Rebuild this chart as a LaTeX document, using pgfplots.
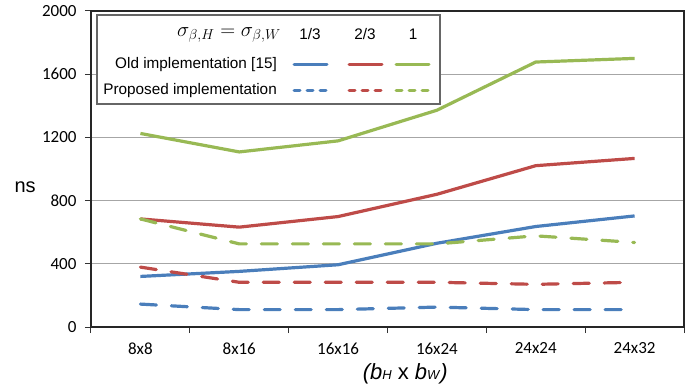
\documentclass[border=0pt]{standalone}
\usepackage{pgfplots}
\pgfplotsset{compat=1.18}
\usepackage{fontspec}
\setmainfont{Liberation Sans}
\newfontfamily\carlito{Carlito}
\definecolor{cblue}{RGB}{74,126,187}
\definecolor{cred}{RGB}{190,75,72}
\definecolor{cgreen}{RGB}{152,185,84}
\pgfplotstableread{
x oldA oldB oldC newA newB newC
0 320 684 1225 145 379 684
1 352 632 1108 110 283 526
2 394 699 1178 110 283 526
3 530 840 1372 126 283 526
4 636 1021 1677 110 270 577
5 703 1067 1700 110 283 535
}\datatable
\begin{document}
\begin{tikzpicture}
\path[use as bounding box] (-91bp,-59bp) rectangle (608bp,327bp);
\begin{axis}[
  scale only axis,
  width=593bp, height=316bp,
  xmin=-0.5, xmax=5.5, ymin=0, ymax=2000,
  xtick={0,...,5},
  xticklabels={8x8,8x16,16x16,16x24,24x24,24x32},
  minor xtick={-0.5,0.5,1.5,2.5,3.5,4.5,5.5},
  ytick={0,400,...,2000},
  tick pos=left,
  tick align=outside,
  major x tick style={draw=none},
  minor x tick style={black!80, line width=1bp},
  major y tick style={black!80, line width=1bp},
  major tick length=6bp,
  minor tick length=6bp,
  ymajorgrids=true,
  grid style={black!35, line width=1.3bp},
  axis line style={black!85, line width=2.2bp},
  ticklabel style={font=\carlito\fontsize{17bp}{19bp}\selectfont},
  /pgf/number format/assume math mode=true,
  /pgf/number format/1000 sep={},
  yticklabel style={xshift=-5bp},
  xticklabel style={yshift=-6bp},
  ylabel={ns},
  ylabel style={rotate=-90, at={(axis description cs:-0.111,0.443)}, anchor=center, font=\fontsize{20bp}{22bp}\selectfont},
  xlabel={\textit{(b}{\fontsize{13bp}{14bp}\selectfont\textit{H}} x \textit{b}{\fontsize{13bp}{14bp}\selectfont\textit{W}}\textit{)}},
  xlabel style={at={(axis description cs:0.53,-0.148)}, anchor=center, font=\fontsize{22bp}{24bp}\selectfont},
  every axis plot/.append style={line width=3.2bp, line join=round},
]
\addplot[cblue] table[x=x,y=oldA] {\datatable};
\addplot[cred] table[x=x,y=oldB] {\datatable};
\addplot[cgreen] table[x=x,y=oldC] {\datatable};
\addplot[cblue, dash pattern=on 16bp off 15bp, line cap=round] table[x=x,y=newA] {\datatable};
\addplot[cred, dash pattern=on 16bp off 15bp, line cap=round] table[x=x,y=newB] {\datatable};
\addplot[cgreen, dash pattern=on 16bp off 15bp, line cap=round] table[x=x,y=newC] {\datatable};
\end{axis}
% legend
\draw[fill=white, draw=black!60, line width=1.3bp] (6bp,223bp) rectangle (349bp,312bp);
\node[font=\fontsize{19bp}{21bp}\selectfont] at (138bp,292bp) {$\sigma_{\beta,H}=\sigma_{\beta,W}$};
\node[font=\fontsize{15.3bp}{17bp}\selectfont] at (219bp,293bp) {1/3};
\node[font=\fontsize{15.3bp}{17bp}\selectfont] at (274bp,293bp) {2/3};
\node[font=\fontsize{15.3bp}{17bp}\selectfont] at (322bp,293bp) {1};
\node[anchor=east, inner sep=0pt, font=\fontsize{15.3bp}{17bp}\selectfont] at (186bp,262bp) {Old implementation [15]};
\node[anchor=east, inner sep=0pt, font=\fontsize{15.3bp}{17bp}\selectfont] at (186bp,236bp) {Proposed implementation};
\draw[cblue, line width=3bp, line cap=round] (203bp,262bp) -- (236bp,262bp);
\draw[cred, line width=3bp, line cap=round] (258bp,262bp) -- (291bp,262bp);
\draw[cgreen, line width=3bp, line cap=round] (305bp,262bp) -- (338bp,262bp);
\draw[cblue, line width=3bp, line cap=round, dash pattern=on 6bp off 7bp] (203bp,236bp) -- (236bp,236bp);
\draw[cred, line width=3bp, line cap=round, dash pattern=on 6bp off 7bp] (258bp,236bp) -- (291bp,236bp);
\draw[cgreen, line width=3bp, line cap=round, dash pattern=on 6bp off 7bp] (305bp,236bp) -- (338bp,236bp);
\end{tikzpicture}
\end{document}
